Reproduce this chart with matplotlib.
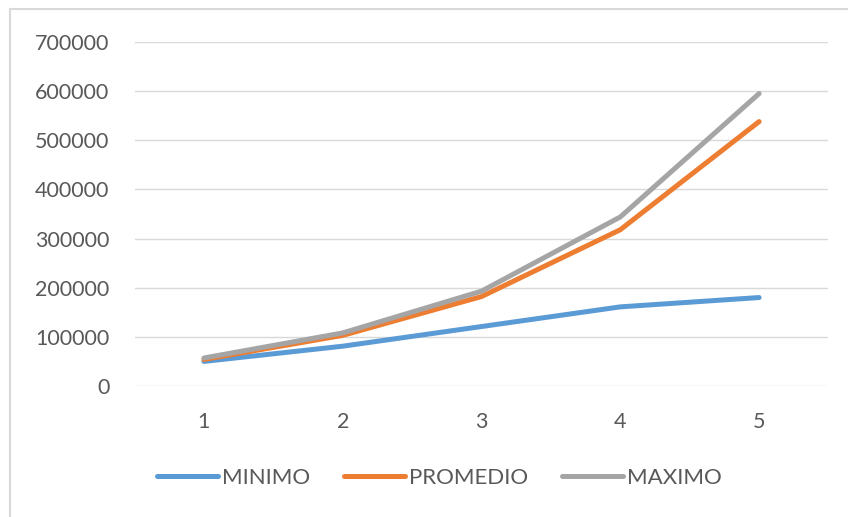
import matplotlib
matplotlib.use("Agg")
import matplotlib.pyplot as plt
from matplotlib.lines import Line2D

# datos de la serie
ensayos = [1, 2, 3, 4, 5]
minimo = [50000, 81000, 121000, 161000, 180000]
promedio = [54000, 103000, 182000, 318000, 538000]
maximo = [57000, 108000, 193000, 344000, 595000]

plt.rcParams['font.family'] = ['Lato', 'DejaVu Sans']

fig = plt.figure(figsize=(8.48, 5.17), dpi=100)
ax = fig.add_axes([0.1587, 0.2534, 0.8183, 0.6654])

ax.plot(ensayos, minimo, color="#5B9BD5", lw=3.6, solid_capstyle="round", label="MINIMO")
ax.plot(ensayos, promedio, color="#ED7D31", lw=3.6, solid_capstyle="round", label="PROMEDIO")
ax.plot(ensayos, maximo, color="#A5A5A5", lw=3.6, solid_capstyle="round", label="MAXIMO")

ax.set_xlim(0.5, 5.5)
ax.set_ylim(0, 700000)
ax.set_yticks(range(0, 700001, 100000))
ax.set_xticks(ensayos)
ax.yaxis.grid(True, color="#D9D9D9", lw=1)
ax.set_axisbelow(True)
for s in ax.spines.values():
    s.set_visible(False)
ax.tick_params(length=0, labelsize=15.5, colors="#595959")
ax.tick_params(axis="y", pad=18)
ax.tick_params(axis="x", pad=19)

# borde del grafico
fig.add_artist(Line2D([10/848, 10/848], [0, 1 - 9/517], transform=fig.transFigure, color="#D9D9D9", lw=1.5))
fig.add_artist(Line2D([10/848, 1], [1 - 9/517, 1 - 9/517], transform=fig.transFigure, color="#D9D9D9", lw=1.5))

fig.legend(loc="center", bbox_to_anchor=(0.518, 0.075), ncol=3, frameon=False,
           fontsize=16, labelcolor="#595959", handlelength=2.75, handletextpad=0.2,
           columnspacing=1.5)

fig.savefig("out.png", dpi=100)
